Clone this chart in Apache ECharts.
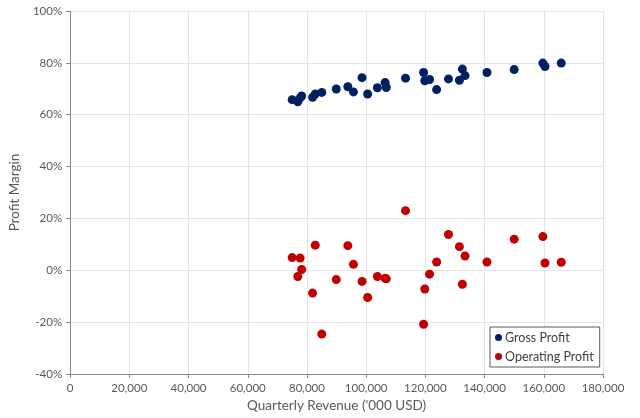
<!DOCTYPE html>
<html><head><meta charset="utf-8">
<script src="https://cdn.jsdelivr.net/npm/echarts@6/dist/echarts.min.js"></script>
<style>html,body{margin:0;padding:0;background:#fff}#c{width:640px;height:418px}</style>
</head><body><div id="c"></div>
<script>
// Quarterly revenue ('000 USD)
const revenue = [75000, 76900, 77700, 78200, 81900, 82800, 85000, 89900, 93800, 95700, 98600, 100500, 103800, 106400, 106800, 113300, 119400, 119800, 121400, 123800, 127800, 131500, 132500, 133400, 140800, 150000, 159700, 160400, 165900];
// Gross profit margin (%)
const grossMargin = [65.8, 65.0, 66.5, 67.2, 66.7, 68.0, 68.6, 69.9, 70.8, 68.8, 74.3, 68.0, 70.4, 72.4, 70.5, 74.1, 76.3, 73.1, 73.6, 69.7, 73.8, 73.3, 77.6, 75.1, 76.3, 77.4, 79.9, 78.6, 79.9];
// Operating profit margin (%)
const operatingMargin = [4.9, -2.4, 4.7, 0.3, -8.8, 9.7, -24.6, -3.6, 9.5, 2.3, -4.3, -10.5, -2.4, -3.1, -3.3, 23.0, -20.8, -7.2, -1.5, 3.2, 13.8, 9.1, -5.4, 5.5, 3.2, 12.0, 13.0, 2.8, 3.1];
const seriesNames = ['Gross Profit', 'Operating Profit'];
const yTicks = [-40, -20, 0, 20, 40, 60, 80, 100];
const xTicks = [0, 20000, 40000, 60000, 80000, 100000, 120000, 140000, 160000, 180000];

const font = 'Lato';
const chart = echarts.init(document.getElementById('c'));
chart.setOption({
  animation: false,
  backgroundColor: '#fff',
  grid: {left: 64, right: 37, top: 11, bottom: 44},
  legend: {
    data: seriesNames,
    orient: 'vertical',
    left: 490, top: 327,
    borderColor: '#595959', borderWidth: 1,
    backgroundColor: '#fff',
    padding: [4, 6, 4, 5],
    itemWidth: 7, itemHeight: 7, itemGap: 6,
    icon: 'circle',
    textStyle: {fontFamily: font, fontSize: 12.5, color: '#404040', padding: [0,0,0,-2]}
  },
  xAxis: {
    type: 'value',
    min: xTicks[0], max: xTicks[xTicks.length-1], interval: 20000,
    name: "Quarterly Revenue ('000 USD)",
    nameLocation: 'middle', nameGap: 24,
    nameTextStyle: {fontFamily: font, fontSize: 13.5, color: '#595959'},
    axisLine: {show: true, onZero: false, lineStyle: {color: '#868686', width: 1}},
    axisTick: {show: true, length: 4, lineStyle: {color: '#868686'}},
    axisLabel: {fontFamily: font, fontSize: 11.5, color: '#595959', margin: 8,
      formatter: v => v.toLocaleString('en-US')},
    splitLine: {show: true, lineStyle: {color: '#e3e3e3', width: 1}}
  },
  yAxis: {
    type: 'value',
    min: yTicks[0], max: yTicks[yTicks.length-1], interval: 20,
    name: 'Profit Margin',
    nameLocation: 'middle', nameGap: 47,
    nameTextStyle: {fontFamily: font, fontSize: 13.5, color: '#595959'},
    axisLine: {show: true, onZero: false, lineStyle: {color: '#868686', width: 1}},
    axisTick: {show: true, length: 4, lineStyle: {color: '#868686'}},
    axisLabel: {fontFamily: font, fontSize: 11.5, color: '#595959', margin: 8,
      formatter: '{value}%'},
    splitLine: {show: true, lineStyle: {color: '#e3e3e3', width: 1}}
  },
  series: [
    {name: seriesNames[0], type: 'scatter', symbolSize: 9,
     itemStyle: {color: '#002060', opacity: 1},
     data: revenue.map((r, i) => [r, grossMargin[i]])},
    {name: seriesNames[1], type: 'scatter', symbolSize: 9,
     itemStyle: {color: '#C00000', opacity: 1},
     data: revenue.map((r, i) => [r, operatingMargin[i]])}
  ]
});
</script></body></html>
